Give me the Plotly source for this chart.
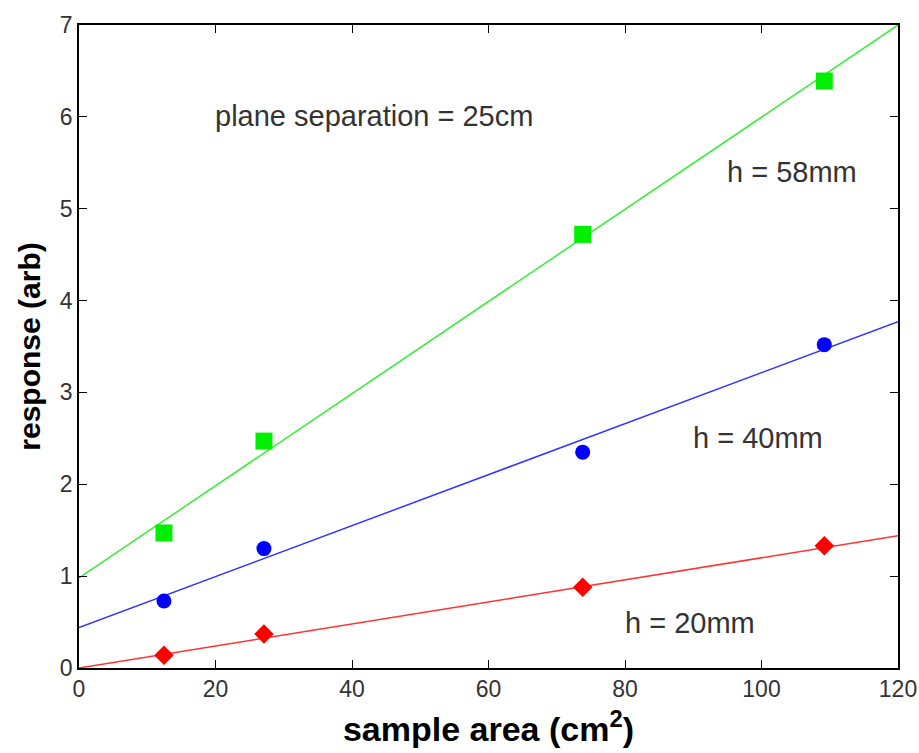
import plotly.graph_objects as go

# sample areas (cm^2)
area = [12.45, 27.1, 73.8, 109.2]
# measured responses
resp_58mm = [1.47, 2.47, 4.72, 6.39]
resp_40mm = [0.73, 1.30, 2.35, 3.52]
resp_20mm = [0.14, 0.37, 0.88, 1.33]
# fitted line endpoints
fit_x = [0, 120]
fit_58mm = [0.98, 7.0]
fit_40mm = [0.44, 3.77]
fit_20mm = [0.0, 1.44]

FONT = "Liberation Sans, Arial, sans-serif"

fig = go.Figure()
series = [
    (resp_58mm, fit_58mm, "#00ee00", "#33ee33", "square", 17),
    (resp_40mm, fit_40mm, "#0000ff", "#3333ff", "circle", 15),
    (resp_20mm, fit_20mm, "#ff0000", "#ff3333", "diamond", 15),
]
for pts, fit, mc, lc, sym, sz in series:
    fig.add_trace(go.Scatter(x=fit_x, y=fit, mode="lines",
                             line=dict(color=lc, width=1.5), showlegend=False,
                             hoverinfo="skip"))
    fig.add_trace(go.Scatter(x=area, y=pts, mode="markers",
                             marker=dict(symbol=sym, size=sz, color=mc),
                             showlegend=False))

annots = [
    (19.9, 6.01, "plane separation = 25cm"),
    (94.9, 5.40, "h = 58mm"),
    (90.0, 2.50, "h = 40mm"),
    (80.0, 0.49, "h = 20mm"),
]
for x, y, t in annots:
    fig.add_annotation(x=x, y=y, text=t, showarrow=False, xanchor="left",
                       yanchor="middle", xshift=-2,
                       font=dict(family=FONT, size=29, color="#333333"))

axis_common = dict(showline=True, linecolor="black", linewidth=1.5, mirror="ticks",
                   ticks="inside", ticklen=8, tickcolor="black", tickwidth=1,
                   showgrid=False, zeroline=False, ticklabeloverflow="allow",
                   automargin=False,
                   tickfont=dict(family=FONT, size=23, color="#333333"))

fig.update_xaxes(range=[0, 120], tickvals=[0, 20, 40, 60, 80, 100, 120],
                 title=dict(text="<b>sample area (cm<sup>2</sup>)</b>",
                            font=dict(family=FONT, size=34, color="black"), standoff=16),
                 **axis_common)
fig.update_yaxes(range=[0, 7], tickvals=[0, 1, 2, 3, 4, 5, 6, 7],
                 title=dict(text="<b>response (arb)</b>",
                            font=dict(family=FONT, size=30, color="black"), standoff=10),
                 **axis_common)

fig.update_layout(width=919, height=753, plot_bgcolor="white", paper_bgcolor="white",
                  margin=dict(l=79, r=21, t=25, b=85))

fig.write_html("out.html", config={"displayModeBar": False},
               post_script="document.body.style.margin='0px';document.body.style.overflow='hidden';")
